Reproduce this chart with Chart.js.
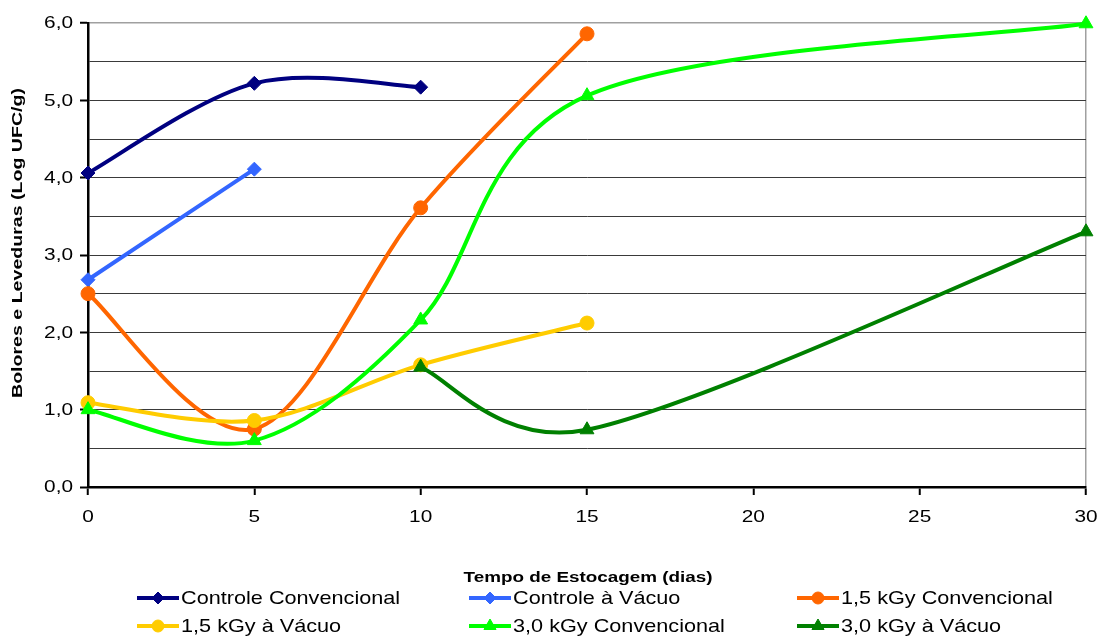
<!DOCTYPE html>
<html lang="pt">
<head>
<meta charset="utf-8">
<title>Bolores e Leveduras</title>
<script src="https://cdn.jsdelivr.net/npm/chart.js@4/dist/chart.umd.min.js"></script>
<style>
  html, body { margin: 0; padding: 0; background: #ffffff; }
  #wrap { width: 1102px; height: 637px; position: relative; }
</style>
</head>
<body>
<div id="wrap"><canvas id="chart"></canvas></div>
<script>
// Tempo de estocagem (dias) e contagens (log UFC/g) por tratamento
const xTicks = [0, 5, 10, 15, 20, 25, 30];
const yTicks = [0, 1, 2, 3, 4, 5, 6];

const daysControleConv = [0, 5, 10];
const valuesControleConv = [4.06, 5.22, 5.17];

const daysControleVac = [0, 5];
const valuesControleVac = [2.68, 4.11];

const days15Conv = [0, 5, 10, 15];
const values15Conv = [2.50, 0.75, 3.61, 5.86];

const days15Vac = [0, 5, 10, 15];
const values15Vac = [1.09, 0.86, 1.58, 2.12];

const days30Conv = [0, 5, 10, 15, 30];
const values30Conv = [1.00, 0.60, 2.16, 5.06, 5.99];

const days30Vac = [10, 15, 30];
const values30Vac = [1.55, 0.74, 3.30];

const seriesNames = [
  'Controle Convencional', 'Controle à Vácuo', '1,5 kGy Convencional',
  '1,5 kGy à Vácuo', '3,0 kGy Convencional', '3,0 kGy à Vácuo'
];
const seriesColors = ['#000080', '#3366FF', '#FF6600', '#FFCC00', '#00FF00', '#008000'];
const seriesMarkers = ['rectRot', 'rectRot', 'circle', 'circle', 'triangle', 'triangle'];

const xTitle = 'Tempo de Estocagem (dias)';
const yTitle = 'Bolores e Leveduras (Log UFC/g)';

const FONT = '"Liberation Sans", Arial, sans-serif';

function toPoints(xs, ys) {
  return xs.map((x, i) => ({ x: x, y: ys[i] }));
}

const seriesData = [
  toPoints(daysControleConv, valuesControleConv),
  toPoints(daysControleVac, valuesControleVac),
  toPoints(days15Conv, values15Conv),
  toPoints(days15Vac, values15Vac),
  toPoints(days30Conv, values30Conv),
  toPoints(days30Vac, values30Vac)
];

const markerRadius = s => (s === 'triangle' ? 8 : 7);

const datasets = seriesNames.map((name, i) => ({
  label: name,
  data: seriesData[i],
  borderColor: seriesColors[i],
  backgroundColor: seriesColors[i],
  pointBackgroundColor: seriesColors[i],
  pointBorderColor: seriesColors[i],
  pointStyle: seriesMarkers[i],
  pointRadius: markerRadius(seriesMarkers[i]),
  pointBorderWidth: 1,
  borderWidth: 4,
  tension: 0.4,
  fill: false,
  clip: false,
  // later series are painted over earlier ones
  order: seriesNames.length - i
}));

const fmt = v => v.toFixed(1).replace('.', ',');

// Spreadsheet-style smoothing: Bezier handles of 1/6 of the neighbour chord,
// limited to half of the segment length
const sixthSmoothing = {
  id: 'sixthSmoothing',
  beforeDatasetDraw(chart, args) {
    const meta = args.meta;
    const line = meta.dataset;
    if (!line) return;
    line.updateControlPoints(chart.chartArea, meta.iScale.axis);
    const pts = meta.data;
    const n = pts.length;
    const dist = (a, b) => Math.hypot(b.x - a.x, b.y - a.y);
    for (let i = 0; i < n - 1; i++) {
      const p0 = pts[Math.max(i - 1, 0)];
      const p1 = pts[i];
      const p2 = pts[i + 1];
      const p3 = pts[Math.min(i + 2, n - 1)];
      const d12 = dist(p1, p2);
      const d02 = dist(p0, p2);
      const d13 = dist(p1, p3);
      const f1 = d02 > 0 ? Math.min(1 / 6, d12 / (2 * d02)) : 0;
      const f2 = d13 > 0 ? Math.min(1 / 6, d12 / (2 * d13)) : 0;
      p1.cp2x = p1.x + (p2.x - p0.x) * f1;
      p1.cp2y = p1.y + (p2.y - p0.y) * f1;
      p2.cp1x = p2.x - (p3.x - p1.x) * f2;
      p2.cp1y = p2.y - (p3.y - p1.y) * f2;
    }
    line._path = undefined;
  }
};

// Draws text with a horizontal stretch (wide Arial-style lettering)
function wideText(ctx, text, x, y, sx, align, angle) {
  ctx.save();
  ctx.translate(x, y);
  if (angle) ctx.rotate(angle);
  ctx.scale(sx, 1);
  ctx.textAlign = align;
  ctx.fillText(text, 0, 0);
  ctx.restore();
}

// Tick labels, axis titles and the three-column legend
const decorations = {
  id: 'decorations',
  afterDraw(chart) {
    const ctx = chart.ctx;
    const area = chart.chartArea;
    const xs = chart.scales.x;
    const ys = chart.scales.y;

    ctx.save();
    ctx.fillStyle = '#000';
    ctx.textBaseline = 'middle';

    ctx.font = '16px ' + FONT;
    yTicks.forEach(v => wideText(ctx, fmt(v), 73, ys.getPixelForValue(v) + 1, 1.3, 'right'));
    xTicks.forEach(v => wideText(ctx, String(v), xs.getPixelForValue(v), 518, 1.3, 'center'));

    ctx.font = 'bold 14.5px ' + FONT;
    wideText(ctx, xTitle, (area.left + area.right) / 2 + 1, 578, 1.3, 'center');
    wideText(ctx, yTitle, 18, 243, 1.35, 'center', -Math.PI / 2);
    ctx.restore();

    const cols = [137, 469, 797];
    const rows = [598, 626];
    ctx.save();
    ctx.font = '19px ' + FONT;
    ctx.textBaseline = 'middle';
    seriesNames.forEach((name, i) => {
      const x0 = cols[i % 3];
      const y = rows[Math.floor(i / 3)];
      ctx.strokeStyle = seriesColors[i];
      ctx.fillStyle = seriesColors[i];
      ctx.lineWidth = 4;
      ctx.beginPath();
      ctx.moveTo(x0, y);
      ctx.lineTo(x0 + 42, y);
      ctx.stroke();
      ctx.lineWidth = 1;
      Chart.helpers.drawPoint(ctx, {
        pointStyle: seriesMarkers[i],
        radius: seriesMarkers[i] === 'triangle' ? 7 : 6,
        rotation: 0,
        borderWidth: 1
      }, x0 + 21, y);
      ctx.fillStyle = '#000';
      wideText(ctx, name, x0 + 44, y + 1, 1.14, 'left');
    });
    ctx.restore();
  }
};

new Chart(document.getElementById('chart'), {
  type: 'line',
  data: { datasets: datasets },
  options: {
    responsive: true,
    maintainAspectRatio: false,
    animation: false,
    layout: { padding: { top: 23, right: 16, left: 0, bottom: 0 } },
    plugins: {
      legend: { display: false },
      tooltip: { enabled: false },
      title: { display: false }
    },
    scales: {
      x: {
        type: 'linear',
        min: xTicks[0],
        max: xTicks[xTicks.length - 1],
        afterFit(scale) { scale.height = 150; },
        afterBuildTicks(scale) { scale.ticks = xTicks.map(v => ({ value: v })); },
        ticks: { display: false },
        grid: {
          color: c => (c.tick && c.tick.value === 30 ? '#a0a0a0' : 'rgba(0,0,0,0)'),
          lineWidth: 1.5,
          tickColor: '#000',
          tickWidth: 2,
          tickLength: 8
        },
        border: { color: '#000', width: 2.5 },
        title: { display: false }
      },
      y: {
        type: 'linear',
        min: yTicks[0],
        max: yTicks[yTicks.length - 1],
        afterFit(scale) { scale.width = 88; },
        ticks: { display: false, stepSize: 0.5 },
        grid: {
          color: c => {
            const v = c.tick ? c.tick.value : 0;
            if (v === 0) return 'rgba(0,0,0,0)';
            if (v === 6) return '#a0a0a0';
            return '#3a3a3a';
          },
          lineWidth: c => (c.tick && c.tick.value === 6 ? 1.5 : 1),
          tickColor: c => (c.tick && yTicks.includes(c.tick.value) ? '#000' : 'rgba(0,0,0,0)'),
          tickWidth: 2,
          tickLength: 8
        },
        border: { color: '#000', width: 2.5 },
        title: { display: false }
      }
    }
  },
  plugins: [sixthSmoothing, decorations]
});
</script>
</body>
</html>
